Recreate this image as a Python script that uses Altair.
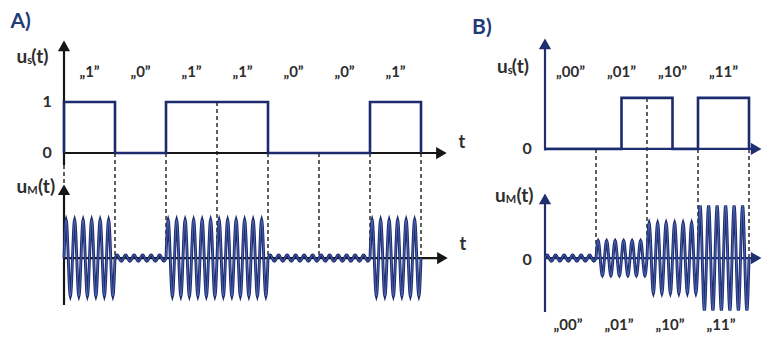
import altair as alt
import numpy as np
import pandas as pd

# ---------------- data ----------------
bits_A = [1, 0, 1, 1, 0, 0, 1]                 # panel A bit sequence
symbols_B = ["00", "01", "10", "11"]           # panel B 2-bit symbols
am_levels_B = [0, 1, 2, 3]                     # amplitude level of each symbol
cycles_per_symbol = 6                          # carrier periods per bit/symbol
residual_amp = 0.06                            # faint carrier where amplitude is "0"

# ---------------- layout constants (diagram units) ----------------
K = 51.0                    # pixels per unit
H = 330
Y_DOM = [-3.627, 2.843]
WA, WB = 462, 292
XA_DOM = [-56 / K, -56 / K + WA / K]
XB_DOM = [-75 / K, -75 / K + WB / K]
A_TOP0, B_TOP0, BOT0 = 0.0, 0.08, -2.06
A_AMP, B_AMP = 0.745, 0.343

NAVY = "#1c2a6e"
AX_A = "#161616"
AX_B = "#1f2f6e"
TXT = "#2e2e2e"
HEAD = "#1f3c78"
FONT = "Lato"


def enc(xdom):
    return dict(
        x=alt.X("x:Q", scale=alt.Scale(domain=xdom, nice=False, zero=False), axis=None),
        y=alt.Y("y:Q", scale=alt.Scale(domain=Y_DOM, nice=False, zero=False), axis=None),
    )


def step_df(levels, dt, base):
    rows = [(0.0, base)]
    for i, v in enumerate(levels):
        rows.append((i * dt, base + v))
    rows.append((len(levels) * dt, base))
    return pd.DataFrame({"x": [r[0] for r in rows], "y": [r[1] for r in rows], "i": range(len(rows))})


def carrier_df(amps, unit):
    n = len(amps)
    t = np.linspace(0, n, n * cycles_per_symbol * 24 + 1)
    seg = np.minimum(np.floor(t).astype(int), n - 1)
    a = np.array([unit * v if v > 0 else residual_amp for v in amps])[seg]
    y = BOT0 + a * np.sin(2 * np.pi * cycles_per_symbol * t)
    return pd.DataFrame({"x": t, "y": y, "i": np.arange(len(t))})


def panel(xdom, width, steps, carrier, vrules, dashed, axes_h, heads, texts, axcol):
    e = enc(xdom)
    layers = []
    # dashed guides
    layers.append(
        alt.Chart(dashed).mark_rule(color="#3a3a3a", strokeWidth=1.6, strokeDash=[4, 3])
        .encode(x=e["x"], y=e["y"], y2="y2:Q")
    )
    # axes
    layers.append(alt.Chart(vrules).mark_rule(color=axcol, strokeWidth=2.2).encode(x=e["x"], y=e["y"], y2="y2:Q"))
    layers.append(alt.Chart(axes_h).mark_rule(color=axcol, strokeWidth=2.2).encode(x=e["x"], x2="x2:Q", y=e["y"]))
    for shape, dfh in heads:
        layers.append(alt.Chart(dfh).mark_point(shape=shape, filled=True, size=150, color=axcol, opacity=1)
                      .encode(x=e["x"], y=e["y"]))
    # modulated carrier
    layers.append(alt.Chart(carrier).mark_line(color=NAVY, strokeWidth=2.9, interpolate="linear")
                  .encode(x=e["x"], y=e["y"], order="i:Q"))
    layers.append(alt.Chart(carrier).mark_line(color="#6a8ad6", strokeWidth=0.6, interpolate="linear")
                  .encode(x=e["x"], y=e["y"], order="i:Q"))
    # digital signal
    layers.append(alt.Chart(steps).mark_line(color=NAVY, strokeWidth=2.6, interpolate="step-after")
                  .encode(x=e["x"], y=e["y"], order="i:Q"))
    # texts
    for df, props in texts:
        layers.append(alt.Chart(df).mark_text(font=FONT, fontWeight="bold", **props)
                      .encode(x=e["x"], y=e["y"], text="s:N"))
    return alt.layer(*layers).properties(width=width, height=H)


def T(xs, ys, ss):
    return pd.DataFrame({"x": xs, "y": ys, "s": ss})


# ---------- panel A ----------
nA = len(bits_A)
stepsA = step_df(bits_A, 1.0, A_TOP0)
carA = carrier_df(bits_A, A_AMP)
dashA_rows = []
for k in range(1, nA + 1):
    prev = bits_A[k - 1]
    nxt = bits_A[k] if k < nA else 0
    dashA_rows.append((k, A_TOP0 + min(prev, nxt), BOT0))
dashA_rows.append((0, -0.235, -0.608))
dashA = pd.DataFrame(dashA_rows, columns=["x", "y", "y2"])
vA = pd.DataFrame({"x": [0, 0], "y": [-0.235, -2.98], "y2": [2.10, -0.72]})
hA = pd.DataFrame({"x": [0, 0], "x2": [7.40, 7.42], "y": [A_TOP0, BOT0]})
headsA = [
    ("triangle-up", pd.DataFrame({"x": [0, 0], "y": [2.10, -0.72]})),
    ("triangle-right", pd.DataFrame({"x": [7.40, 7.42], "y": [A_TOP0, BOT0]})),
]
textsA = [
    (T([i + 0.5 for i in range(nA)], [1.59] * nA, [f"„{b}”" for b in bits_A]),
     dict(fontSize=15, color=TXT, align="center", baseline="middle")),
    (T([-0.33, -0.33], [A_TOP0 + 1, A_TOP0], ["1", "0"]),
     dict(fontSize=16, color=TXT, align="center", baseline="middle")),
    (T([-0.93, -0.93], [1.88, -0.67], ["u", "u"]), dict(fontSize=19, color=TXT, align="left", baseline="middle")),
    (T([-0.72, -0.72], [1.80, -0.75], ["s", "M"]), dict(fontSize=11, color=TXT, align="left", baseline="middle")),
    (T([-0.64, -0.51], [1.88, -0.67], ["(t)", "(t)"]), dict(fontSize=19, color=TXT, align="left", baseline="middle")),
    (T([7.80, 7.82], [0.20, BOT0 + 0.26], ["t", "t"]), dict(fontSize=18, color=TXT, align="center", baseline="middle")),
    (T([-1.05], [2.57], ["A)"]), dict(fontSize=21, color=HEAD, align="left", baseline="middle")),
]
chartA = panel(XA_DOM, WA, stepsA, carA, vA, dashA, hA, headsA, textsA, AX_A)

# ---------- panel B ----------
nB = len(symbols_B)
half_bits = [int(c) for s in symbols_B for c in s]
stepsB = step_df(half_bits, 0.5, B_TOP0)
carB = carrier_df(am_levels_B, B_AMP)
dashB_rows = []
for k in range(1, nB + 1):
    prev = half_bits[2 * k - 1]
    nxt = half_bits[2 * k] if k < nB else 0
    dashB_rows.append((k, B_TOP0 + min(prev, nxt), BOT0))
dashB = pd.DataFrame(dashB_rows, columns=["x", "y", "y2"])
vB = pd.DataFrame({"x": [0, 0], "y": [B_TOP0 - 0.03, -3.118], "y2": [2.14, -0.90]})
hB = pd.DataFrame({"x": [0, 0], "x2": [4.14, 4.14], "y": [B_TOP0, BOT0]})
headsB = [
    ("triangle-up", pd.DataFrame({"x": [0, 0], "y": [2.14, -0.90]})),
    ("triangle-right", pd.DataFrame({"x": [4.14, 4.14], "y": [B_TOP0, BOT0]})),
]
textsB = [
    (T([i + 0.5 for i in range(nB)], [1.59] * nB, [f"„{s}”" for s in symbols_B]),
     dict(fontSize=15, color=TXT, align="center", baseline="middle")),
    (T([i + 0.45 for i in range(nB)], [-3.37] * nB, [f"„{s}”" for s in symbols_B]),
     dict(fontSize=15, color=TXT, align="center", baseline="middle")),
    (T([-0.35, -0.35], [B_TOP0, BOT0 - 0.04], ["0", "0"]),
     dict(fontSize=16, color=TXT, align="center", baseline="middle")),
    (T([-0.94, -0.98], [1.69, -0.84], ["u", "u"]), dict(fontSize=19, color=TXT, align="left", baseline="middle")),
    (T([-0.73, -0.77], [1.61, -0.92], ["s", "M"]), dict(fontSize=11, color=TXT, align="left", baseline="middle")),
    (T([-0.65, -0.56], [1.69, -0.84], ["(t)", "(t)"]), dict(fontSize=19, color=TXT, align="left", baseline="middle")),
    (T([-1.43], [2.45], ["B)"]), dict(fontSize=21, color=HEAD, align="left", baseline="middle")),
]
chartB = panel(XB_DOM, WB, stepsB, carB, vB, dashB, hB, headsB, textsB, AX_B)

chart = (
    alt.hconcat(chartA, chartB, spacing=0)
    .properties(padding=0, background="white")
    .configure_view(stroke=None)
)
chart.save("out.html", embed_options={"renderer": "svg", "actions": False})
